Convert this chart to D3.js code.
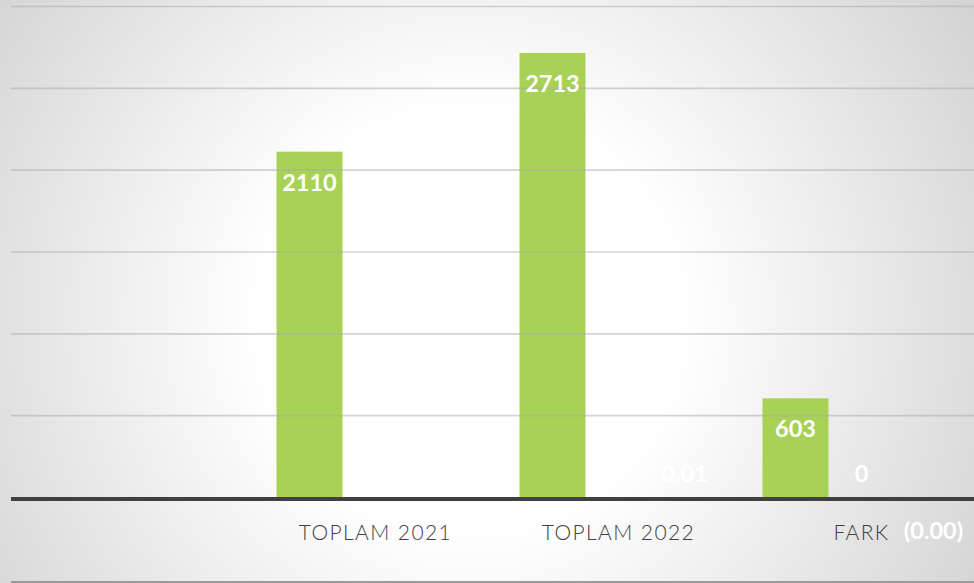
<!DOCTYPE html>
<html>
<head>
<meta charset="utf-8">
<script src="https://cdn.jsdelivr.net/npm/d3@7.9.0/dist/d3.min.js"></script>
<style>
  html, body { margin: 0; padding: 0; overflow: hidden; }
  svg { display: block; }
</style>
</head>
<body>
<svg id="chart" width="974" height="583"></svg>
<script>
// categories (first slot is empty in the original sheet)
const categories = ['', 'TOPLAM 2021', 'TOPLAM 2022', 'FARK'];
const seriesNames = ['toplam', 'ek1', 'ek2'];

// values per series, null = no value
const toplam = [null, 2110, 2713, 603];
const ek1 = [null, 0, 0, 0];
const ek2 = [null, 0.01, 0.01, -0.001];

const yTicks = [500, 1000, 1500, 2000, 2500, 3000];

const width = 974, height = 583;
const svg = d3.select('#chart');

// background: soft radial gradient, white in the middle
const defs = svg.append('defs');
const grad = defs.append('radialGradient')
  .attr('id', 'bg')
  .attr('gradientUnits', 'userSpaceOnUse')
  .attr('cx', 470).attr('cy', 320).attr('r', 620);
grad.append('stop').attr('offset', '0%').attr('stop-color', '#ffffff');
grad.append('stop').attr('offset', '34%').attr('stop-color', '#ffffff');
grad.append('stop').attr('offset', '100%').attr('stop-color', '#d0d0d0');

svg.append('rect')
  .attr('width', width).attr('height', height)
  .attr('fill', 'url(#bg)');

const x0 = d3.scaleBand().domain(categories).range([11, 983]);
const inner = x0.bandwidth() * 0.0926;
const x1 = d3.scaleBand()
  .domain(seriesNames)
  .range([inner, x0.bandwidth() - inner]);

const y = d3.scaleLinear().domain([0, 3000]).range([497, 6]);

// rows for drawing
let rows = [];
categories.forEach((c, i) => {
  [toplam, ek1, ek2].forEach((arr, s) => {
    if (arr[i] !== null) rows.push({ cat: c, series: seriesNames[s], value: arr[i] });
  });
});

// bars first (gridlines sit on top of them, a bit transparent)
svg.append('g')
  .selectAll('rect')
  .data(rows.filter((d) => d.series === 'toplam'))
  .join('rect')
  .attr('x', (d) => x0(d.cat) + x1(d.series))
  .attr('y', (d) => y(d.value))
  .attr('width', x1.bandwidth())
  .attr('height', (d) => y(0) - y(d.value))
  .attr('fill', '#a8d255');

// gridlines
const grid = d3.axisLeft(y)
  .tickValues(yTicks)
  .tickSize(-(width - 11))
  .tickFormat('');
svg.append('g')
  .attr('transform', 'translate(11,0)')
  .call(grid)
  .call((g) => g.select('.domain').remove())
  .call((g) => g.selectAll('line')
    .attr('stroke', '#a8a8a8')
    .attr('stroke-opacity', 0.5)
    .attr('stroke-width', 1.6));

// baseline
svg.append('line')
  .attr('x1', 11).attr('x2', width)
  .attr('y1', y(0) + 2).attr('y2', y(0) + 2)
  .attr('stroke', '#404040')
  .attr('stroke-width', 4);

// bottom frame line
svg.append('line')
  .attr('x1', 11).attr('x2', width)
  .attr('y1', 582).attr('y2', 582)
  .attr('stroke', '#9a9a9a')
  .attr('stroke-width', 2);

// category labels
svg.append('g')
  .selectAll('text')
  .data(categories.filter((c) => c !== ''))
  .join('text')
  .attr('x', (c) => x0(c) + x0.bandwidth() / 2)
  .attr('y', 531)
  .attr('text-anchor', 'middle')
  .attr('dominant-baseline', 'central')
  .attr('font-family', 'Lato, sans-serif')
  .attr('font-weight', 300)
  .attr('font-size', 21)
  .attr('letter-spacing', 1.4)
  .attr('fill', '#404040')
  .text((c) => c);

// data labels
function fmt(d) {
  if (d.series === 'ek2') {
    let s = d3.format('.2f')(Math.abs(d.value));
    return d.value < 0 ? '(' + s + ')' : s;
  }
  return d3.format('d')(d.value);
}

svg.append('g')
  .selectAll('text')
  .data(rows)
  .join('text')
  .attr('x', (d) => x0(d.cat) + x1(d.series) + x1.bandwidth() / 2 + (d.value < 0 ? 6 : 0))
  .attr('y', (d) => d.value < 0 ? 530 : Math.min(y(d.value) + 30, 473))
  .attr('text-anchor', 'middle')
  .attr('dominant-baseline', 'central')
  .attr('font-family', 'Lato, sans-serif')
  .attr('font-weight', 'bold')
  .attr('font-size', 23.5)
  .attr('fill', '#ffffff')
  .text((d) => fmt(d));
</script>
</body>
</html>
